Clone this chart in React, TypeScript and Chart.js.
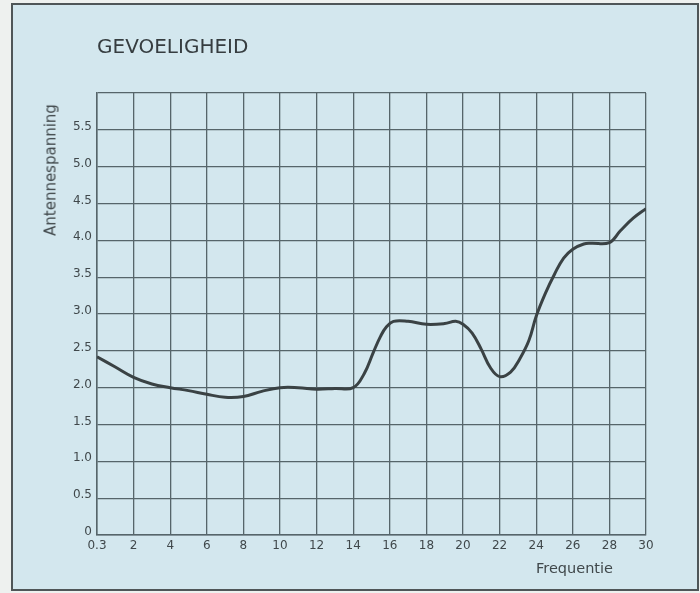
import React, { useEffect, useRef } from "react";
import { Chart, registerables } from "chart.js";

Chart.register(...registerables);

// Frequency (MHz) and sensitivity (antenna voltage)
const frequencies = [
  0.3, 1.15, 2, 3, 4, 5, 6, 7, 8, 9, 10, 11, 12, 13, 14, 14.6, 15.1, 15.5, 15.8,
  16.2, 17, 18, 19, 19.6, 20, 20.5, 21, 21.5, 22, 22.6, 23.1, 23.6, 24, 24.5, 25,
  25.5, 26, 26.6, 27, 28, 28.6, 29.3, 30,
];
const sensitivity = [
  2.42, 2.28, 2.14, 2.05, 2.0, 1.96, 1.91, 1.87, 1.88, 1.95, 2.0, 2.0, 1.98, 1.99,
  2.0, 2.19, 2.48, 2.7, 2.82, 2.9, 2.9, 2.86, 2.87, 2.9, 2.86, 2.74, 2.52, 2.27,
  2.15, 2.21, 2.39, 2.64, 2.97, 3.28, 3.54, 3.76, 3.88, 3.95, 3.96, 3.97, 4.13,
  4.3, 4.43,
];
const xTickValues = [0, 2, 4, 6, 8, 10, 12, 14, 16, 18, 20, 22, 24, 26, 28, 30];
const xTickLabels = ["0.3", "2", "4", "6", "8", "10", "12", "14", "16", "18", "20", "22", "24", "26", "28", "30"];
const yTickValues = [0, 0.5, 1, 1.5, 2, 2.5, 3, 3.5, 4, 4.5, 5, 5.5, 6];
const yTickLabels = ["0", "0.5", "1.0", "1.5", "2.0", "2.5", "3.0", "3.5", "4.0", "4.5", "5.0", "5.5", ""];

const chartTitle = "GEVOELIGHEID";
const yTitle = "Antennespanning";
const xTitle = "Frequentie";

// The first interval (0.3 .. 2) is drawn as wide as the others
const axisPos = (f: number) => (f < 2 ? ((f - 0.3) / 1.7) * 2 : f);

const GRID = "#56656a";
const TEXT = "#40484b";
const FONT = "'DejaVu Sans', sans-serif";

export default function App() {
  const ref = useRef<HTMLCanvasElement | null>(null);

  useEffect(() => {
    if (!ref.current) return;
    const chart = new Chart(ref.current, {
      type: "line",
      data: {
        datasets: [
          {
            data: frequencies.map((f, i) => ({ x: axisPos(f), y: sensitivity[i] })),
            borderColor: "#3a4244",
            borderWidth: 3,
            pointRadius: 0,
            fill: false,
            tension: 0.4,
          },
        ],
      },
      options: {
        animation: false,
        responsive: false,
        maintainAspectRatio: false,
        layout: { padding: { top: 93, right: 54, left: 0, bottom: 0 } },
        plugins: { legend: { display: false }, tooltip: { enabled: false }, title: { display: false } },
        scales: {
          x: {
            type: "linear",
            min: 0,
            max: 30,
            afterFit: (s: any) => {
              s.height = 58;
            },
            afterBuildTicks: (s: any) => {
              s.ticks = xTickValues.map((v) => ({ value: v }));
            },
            ticks: {
              padding: 4,
              color: TEXT,
              font: { family: FONT, size: 12 },
              maxRotation: 0,
              autoSkip: false,
              callback: (v: any) => {
                const i = xTickValues.indexOf(Number(v));
                return i >= 0 ? xTickLabels[i] : "";
              },
            },
            grid: { color: GRID, lineWidth: 1.3, drawTicks: false },
            border: { color: GRID, width: 1.5 },
          },
          y: {
            type: "linear",
            min: 0,
            max: 6,
            afterFit: (s: any) => {
              s.width = 97;
            },
            afterBuildTicks: (s: any) => {
              s.ticks = yTickValues.map((v) => ({ value: v }));
            },
            ticks: {
              padding: 5,
              labelOffset: -3,
              color: TEXT,
              font: { family: FONT, size: 12 },
              autoSkip: false,
              callback: (v: any) => {
                const i = yTickValues.indexOf(Number(v));
                return i >= 0 ? yTickLabels[i] : "";
              },
            },
            grid: { color: GRID, lineWidth: 1.3, drawTicks: false },
            border: { color: GRID, width: 1.5 },
          },
        },
      },
    });
    return () => chart.destroy();
  }, []);

  return (
    <div style={{ position: "absolute", left: 0, top: 0, width: 700, height: 593, background: "#eef1ef", overflow: "hidden" }}>
      <div
        style={{
          position: "absolute",
          left: 11,
          top: 3,
          width: 684,
          height: 584,
          border: "2px solid #4f5658",
          background: "#d3e7ee",
        }}
      />
      <canvas ref={ref} width={700} height={593} style={{ position: "absolute", left: 0, top: 0, width: 700, height: 593 }} />
      <div
        style={{
          position: "absolute",
          left: 97,
          top: 36,
          fontFamily: FONT,
          fontSize: 20,
          lineHeight: "20px",
          color: "#363d40",
          whiteSpace: "nowrap",
        }}
      >
        {chartTitle}
      </div>
      <div
        style={{
          position: "absolute",
          left: 51,
          top: 170,
          transform: "translate(-50%, -50%) rotate(-90deg)",
          fontFamily: FONT,
          fontSize: 15,
          lineHeight: "15px",
          color: TEXT,
          whiteSpace: "nowrap",
        }}
      >
        {yTitle}
      </div>
      <div
        style={{
          position: "absolute",
          left: 536,
          top: 561,
          fontFamily: FONT,
          fontSize: 14.5,
          lineHeight: "14.5px",
          color: TEXT,
          whiteSpace: "nowrap",
        }}
      >
        {xTitle}
      </div>
    </div>
  );
}
